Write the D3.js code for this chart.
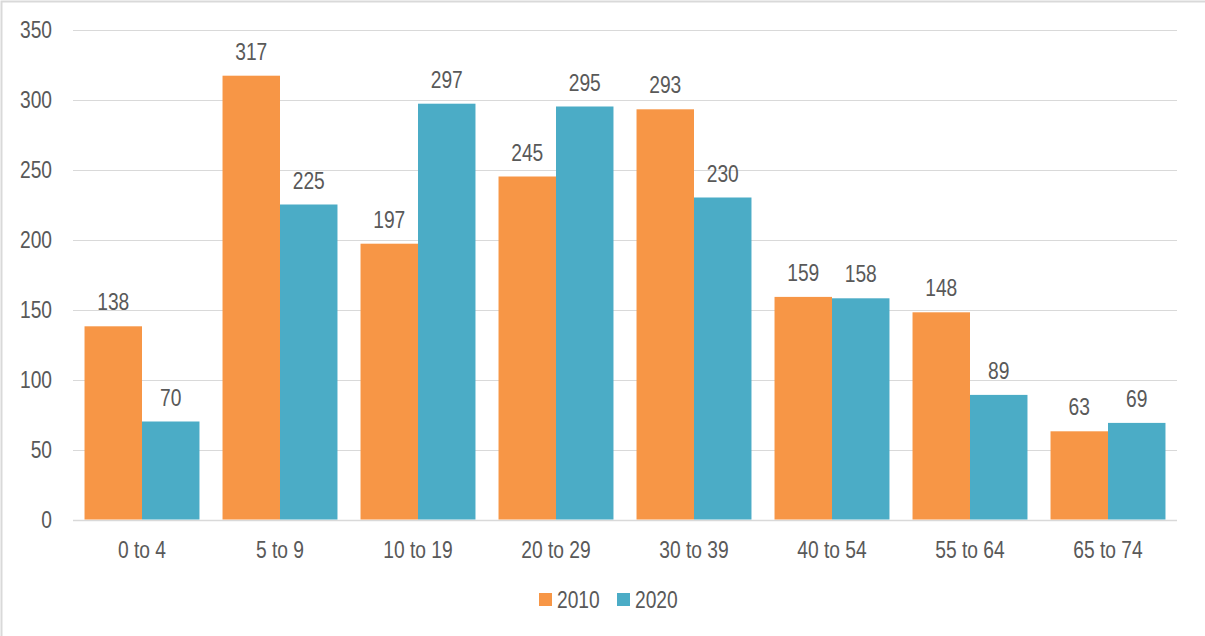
<!DOCTYPE html>
<html>
<head>
<meta charset="utf-8">
<script src="https://cdn.jsdelivr.net/npm/d3@7"></script>
<style>
    body { margin: 0; background: #fff; }
    svg text { font-family: "Liberation Sans", Arial, sans-serif; fill: #595959; font-size: 24px; }
</style>
</head>
<body>
<div id="chart"></div>
<script>
    // Chart data
    var categories = ['0 to 4', '5 to 9', '10 to 19', '20 to 29', '30 to 39', '40 to 54', '55 to 64', '65 to 74'];
    var seriesNames = ['2010', '2020'];
    var values2010 = [138, 317, 197, 245, 293, 159, 148, 63];
    var values2020 = [70, 225, 297, 295, 230, 158, 89, 69];
    var yTicks = [0, 50, 100, 150, 200, 250, 300, 350];
    var colors = ['#F79646', '#4BACC6'];

    var width = 1205, height = 636;
    var margin = { top: 29.5, right: 28, bottom: 116.5, left: 73 };

    // the text in the picture is a narrow face
    var squeeze = 0.8;
    var place = function (px, py) {
        return 'translate(' + px + ',' + py + ') scale(' + squeeze + ',1)';
    };

    var svg = d3.select('#chart')
        .append('svg')
        .attr('width', width)
        .attr('height', height);

    // frame (only top and left edges are visible in the crop)
    svg.append('path')
        .attr('d', 'M1.5,' + height + 'V1.5H' + width)
        .attr('fill', 'none')
        .attr('stroke', '#d9d9d9')
        .attr('stroke-width', 2);

    var x = d3.scaleBand()
        .domain(categories)
        .range([margin.left, width - margin.right])
        .paddingInner(0.167)
        .paddingOuter(0.0835);

    var xs = d3.scaleBand()
        .domain(seriesNames)
        .range([0, x.bandwidth()]);

    var y = d3.scaleLinear()
        .domain([0, 350])
        .range([height - margin.bottom, margin.top]);

    // gridlines
    svg.append('g')
        .selectAll('line')
        .data(yTicks)
        .enter()
        .append('line')
        .attr('x1', margin.left)
        .attr('x2', width - margin.right)
        .attr('y1', function (d) { return Math.round(y(d)) + 0.5; })
        .attr('y2', function (d) { return Math.round(y(d)) + 0.5; })
        .attr('stroke', '#d9d9d9')
        .attr('stroke-width', function (d) { return d === 0 ? 1.5 : 1; });

    // y tick labels
    svg.append('g')
        .selectAll('text')
        .data(yTicks)
        .enter()
        .append('text')
        .attr('transform', function (d) { return place(52, y(d) + 8.5); })
        .attr('text-anchor', 'end')
        .text(function (d) { return d; });

    // bars
    var table = categories.map(function (c, i) {
        return { cat: c, vals: [values2010[i], values2020[i]] };
    });

    var groups = svg.append('g')
        .selectAll('g')
        .data(table)
        .enter()
        .append('g')
        .attr('transform', function (d) { return 'translate(' + x(d.cat) + ',0)'; });

    groups.selectAll('rect')
        .data(function (d) { return d.vals.map(function (v, k) { return { s: seriesNames[k], v: v, k: k }; }); })
        .enter()
        .append('rect')
        .attr('x', function (d) { return xs(d.s); })
        .attr('y', function (d) { return y(d.v); })
        .attr('width', xs.bandwidth())
        .attr('height', function (d) { return y(0) - y(d.v); })
        .attr('fill', function (d) { return colors[d.k]; });

    // data labels
    groups.selectAll('text')
        .data(function (d) { return d.vals.map(function (v, k) { return { s: seriesNames[k], v: v }; }); })
        .enter()
        .append('text')
        .attr('transform', function (d) { return place(xs(d.s) + xs.bandwidth() / 2, y(d.v) - 16); })
        .attr('text-anchor', 'middle')
        .text(function (d) { return d.v; });

    // category labels
    svg.append('g')
        .selectAll('text')
        .data(categories)
        .enter()
        .append('text')
        .attr('transform', function (d) { return place(x(d) + x.bandwidth() / 2, 558); })
        .attr('text-anchor', 'middle')
        .text(function (d) { return d; });

    // legend
    var legendX = [539, 617];
    var legend = svg.append('g')
        .selectAll('g')
        .data(seriesNames)
        .enter()
        .append('g')
        .attr('transform', function (d, i) { return 'translate(' + legendX[i] + ',593)'; });

    legend.append('rect')
        .attr('width', 13)
        .attr('height', 13)
        .attr('fill', function (d, i) { return colors[i]; });

    legend.append('text')
        .attr('transform', place(18, 15.3))
        .text(function (d) { return d; });
</script>
</body>
</html>
